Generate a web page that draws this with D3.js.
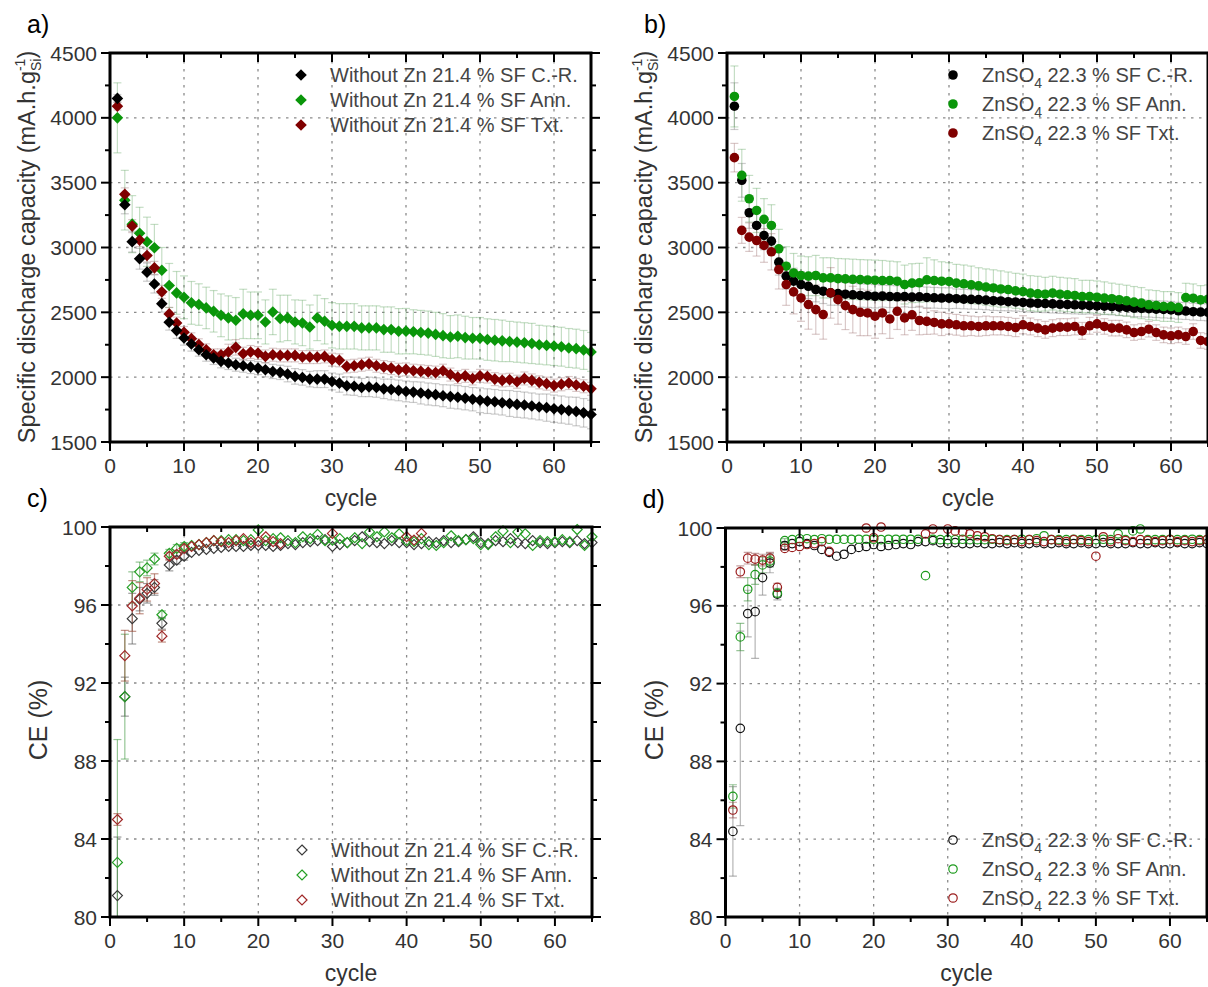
<!DOCTYPE html>
<html>
<head>
<meta charset="utf-8">
<script src="https://cdn.jsdelivr.net/npm/d3@7"></script>
<style>
  body { margin: 0; background: #fff; }
  svg { display: block; font-family: "Liberation Sans", Arial, sans-serif; }
</style>
</head>
<body>
<svg width="1208" height="987"></svg>
<script>
var width = 1208;
var height = 987;

var cycles = d3.range(1, 66);

// a) specific discharge capacity, without Zn (mAh/g Si)
var capNoZnCR = [4150,3330,3045,2913,2810,2719,2567,2423,2359,2302,2256,2212,2173,2148,2122,2109,2096,2088,2078,2070,
  2057,2044,2037,2024,2006,1998,1985,1985,1985,1967,1954,1933,1930,1920,1925,1920,1910,1905,1898,1890,
  1885,1878,1870,1865,1857,1850,1845,1838,1830,1822,1815,1810,1803,1797,1790,1785,1778,1770,1765,1757,
  1750,1742,1735,1725,1712];
var capNoZnAnn = [4000,3365,3180,3110,3044,2998,2825,2707,2650,2616,2573,2560,2534,2508,2477,2457,2439,2488,2477,2477,
  2426,2503,2452,2457,2426,2418,2387,2457,2431,2400,2392,2392,2392,2380,2380,2380,2367,2367,2354,2355,
  2350,2345,2340,2330,2320,2310,2315,2305,2300,2300,2290,2285,2280,2275,2270,2265,2260,2250,2245,2240,
  2235,2225,2220,2210,2195];
var capNoZnTxt = [4090,3410,3165,3057,2938,2843,2658,2488,2418,2346,2297,2251,2212,2173,2173,2194,2230,2181,2194,2186,
  2160,2173,2168,2168,2168,2155,2155,2155,2160,2135,2130,2083,2088,2096,2104,2088,2078,2070,2057,2060,
  2050,2045,2040,2035,2050,2020,2000,2010,1990,2010,2005,1985,1975,1980,1965,1990,1975,1960,1950,1935,
  1945,1955,1940,1930,1910];
var errNoZnCR = [30,70,80,80,70,70,65,60,60,55,55,50,50,50,50,50,50,50,50,50,55,55,55,60,60,60,60,65,65,65,
  70,70,70,70,75,75,75,80,80,80,80,85,85,85,85,90,90,90,90,95,95,95,95,100,100,100,100,100,105,105,105,105,110,110,110];
var errNoZnAnn = [270,230,220,200,190,180,175,170,165,165,165,160,160,160,165,170,175,190,180,180,170,175,180,175,170,
  175,170,175,175,175,175,175,175,170,170,170,175,175,175,175,170,170,170,170,170,165,165,165,160,160,160,160,160,155,155,
  155,155,150,150,150,150,150,150,150,150];
var errNoZnTxt = [30,50,50,50,50,50,50,50,45,45,45,45,45,45,45,60,60,50,50,50,50,50,50,50,50,50,50,50,50,50,
  50,50,50,50,50,50,50,50,50,50,50,50,50,50,50,50,50,50,50,50,50,50,50,50,50,50,50,50,50,50,50,50,50,50,50];

// b) specific discharge capacity, ZnSO4
var capZnCR = [4090,3518,3268,3170,3093,3049,2887,2779,2740,2714,2701,2676,2663,2650,2645,2640,2635,2630,2628,2624,
  2625,2622,2620,2622,2618,2620,2615,2612,2610,2609,2605,2602,2600,2598,2595,2590,2588,2582,2580,2576,
  2572,2570,2568,2565,2562,2560,2558,2555,2552,2550,2548,2545,2540,2538,2532,2530,2528,2525,2522,2519,
  2512,2510,2505,2502,2500];
var capZnAnn = [4165,3557,3376,3286,3217,3170,2990,2856,2804,2784,2779,2784,2766,2766,2760,2758,2755,2752,2750,2748,
  2745,2745,2740,2714,2725,2728,2751,2745,2740,2738,2725,2720,2712,2704,2695,2688,2680,2676,2666,2660,
  2648,2643,2640,2648,2640,2635,2630,2622,2622,2617,2610,2605,2597,2589,2579,2571,2558,2553,2545,2545,
  2537,2614,2609,2596,2601];
var capZnTxt = [3693,3132,3080,3054,3016,2967,2830,2714,2658,2611,2560,2521,2483,2650,2598,2552,2521,2500,2495,2470,
  2495,2449,2508,2457,2481,2437,2430,2422,2411,2411,2404,2396,2396,2391,2396,2396,2396,2391,2383,2404,
  2391,2378,2365,2378,2386,2386,2391,2357,2396,2411,2391,2378,2378,2365,2344,2352,2370,2344,2326,2319,
  2326,2313,2352,2283,2275];
var errZnCR = [180,130,120,110,110,100,100,100,100,100,95,95,95,95,90,90,90,90,90,90,85,85,85,80,80,80,80,80,80,80,
  75,75,75,75,75,75,75,70,70,70,70,70,70,70,70,70,70,70,65,65,65,65,65,65,65,65,65,65,65,65,65,65,65,65,65];
var errZnAnn = [235,200,180,170,160,160,150,150,150,150,150,155,155,155,155,155,155,155,155,155,155,150,150,150,150,
  150,170,160,150,145,145,145,145,140,140,140,140,135,135,135,135,135,130,130,130,130,130,125,125,125,125,120,120,120,120,
  120,115,115,115,115,115,110,110,110,110];
var errZnTxt = [110,100,110,120,130,140,150,160,170,180,190,190,190,195,190,185,180,180,175,170,160,150,140,130,120,
  110,100,90,90,80,80,80,75,75,75,70,70,70,70,70,65,65,65,65,65,65,65,65,65,65,60,60,60,60,60,60,60,60,60,60,
  60,60,60,60,60];

// c) coulombic efficiency, without Zn (%)
var ceNoZnCR = [81.1,91.3,95.3,96.3,96.6,96.9,95.06,98.05,98.3,98.5,98.7,98.8,98.85,98.9,98.95,99.0,99.0,99.0,99.05,99.05,
  99.05,99.0,99.05,99.15,99.1,99.2,99.25,99.3,99.35,99.0,99.1,99.2,99.3,99.5,99.25,99.2,99.15,99.3,99.2,99.2,
  99.1,99.15,99.25,99.2,99.3,99.2,99.25,99.35,99.5,99.2,99.15,99.3,99.25,99.4,99.2,99.15,99.3,99.2,99.15,99.2,
  99.25,99.2,99.3,99.15,99.2];
var ceNoZnAnn = [82.8,91.3,96.9,97.7,97.9,98.36,95.5,98.65,98.9,99.0,99.05,99.1,99.2,99.3,99.3,99.35,99.35,99.3,99.35,99.85,
  99.3,99.4,99.45,99.3,99.2,99.5,99.4,99.62,99.3,99.33,99.4,99.2,99.45,99.15,99.75,99.5,99.75,99.45,99.65,99.3,
  99.25,99.4,99.1,99.05,99.2,99.55,99.3,99.35,99.4,99.1,99.1,99.5,99.8,99.2,99.75,99.65,99.05,99.3,99.25,99.25,
  99.35,99.25,99.87,99.05,99.5];
var ceNoZnTxt = [85.0,93.4,95.95,96.35,96.8,97.1,94.4,98.5,98.6,98.9,99.0,99.1,99.2,99.3,99.25,99.2,99.3,99.4,99.2,99.25,
  99.5,99.25,99.15,null,null,null,null,null,null,99.67,null,null,null,null,null,null,null,null,null,99.5,
  99.33,99.67];
var errCeNoZnCR = [3.0,1.0,1.3,0.6,0.5,0.4,0.3,0.3,0.2,0.2];
var errCeNoZnAnn = [6.3,3.2,0.8,0.5,0.4,0.3,0.2,0.2,0.2,0.2];
var errCeNoZnTxt = [0.3,1.3,1.3,0.8,0.6,0.5,0.3,0.2,0.2,0.2];

// d) coulombic efficiency, ZnSO4 (%)
var ceZnCR = [84.4,89.7,95.6,95.7,97.45,98.2,96.6,99.1,99.2,99.3,99.2,99.1,98.9,98.75,98.55,98.65,98.9,99.0,99.05,99.15,
  99.05,99.1,99.15,99.2,99.15,99.3,99.3,99.35,99.25,99.2,99.25,99.2,99.2,99.25,99.2,99.2,99.25,99.2,99.25,99.2,
  99.2,99.25,99.2,99.2,99.25,99.2,99.2,99.25,99.2,99.2,99.25,99.2,99.2,99.2,99.25,99.2,99.2,99.25,99.2,99.2,
  99.25,99.2,99.2,99.25,99.2];
var ceZnAnn = [86.2,94.4,96.85,97.6,98.1,98.3,96.65,99.35,99.4,99.45,99.45,99.4,99.45,99.42,99.42,99.42,99.42,99.42,99.42,99.42,
  99.4,99.42,99.42,99.42,99.42,99.42,97.55,99.42,99.4,99.4,99.4,99.42,99.4,99.4,99.4,99.42,99.4,99.4,99.4,99.42,
  99.4,99.45,99.6,99.4,99.4,99.4,99.42,99.4,99.4,99.4,99.42,99.4,99.7,99.4,99.85,99.95,99.4,99.4,99.4,99.42,
  99.4,99.4,99.42,99.4,99.4];
var ceZnTxt = [85.5,97.75,98.45,98.4,98.35,98.45,96.95,98.95,99.0,99.05,99.15,99.2,99.3,98.8,null,null,null,null,100.0,99.5,
  100.05,null,null,null,null,null,99.7,99.95,null,99.95,99.85,99.8,99.7,99.6,99.55,99.45,99.4,99.35,99.4,99.3,
  99.4,99.35,99.3,99.4,99.35,99.3,99.4,99.35,99.3,98.55,99.55,99.3,99.45,99.35,99.3,99.4,99.35,99.3,99.35,99.4,
  99.3,99.35,99.3,99.35,99.4];
var errCeZnCR = [2.3,5.0,1.2,2.4,0.9,0.5,0.3,0.2];
var errCeZnAnn = [0.6,0.7,0.6,0.5,0.4,0.3,0.2,0.1];
var errCeZnTxt = [0.4,0.3,0.3,0.3,0.3,0.3,0.2,0.1];

var legendNoZn = ['Without Zn 21.4 % SF C.-R.', 'Without Zn 21.4 % SF Ann.', 'Without Zn 21.4 % SF Txt.'];
var legendZn = [' 22.3 % SF C.-R.', ' 22.3 % SF Ann.', ' 22.3 % SF Txt.'];

var capTicks = [1500, 2000, 2500, 3000, 3500, 4000, 4500];
var ceTicks = [80, 84, 88, 92, 96, 100];
var cycleTicks = [0, 10, 20, 30, 40, 50, 60];

var svg = d3.select('svg');

function diamond(r) {
  return 'M0,' + (-r) + 'L' + r + ',0L0,' + r + 'L' + (-r) + ',0Z';
}

var panels = [
  {id: 'a', label: 'a)', left: 110, right: 591, top: 53, bottom: 442, yDomain: [1500, 4500], yTicks: capTicks, yMinor: 250,
   kind: 'cap', shape: 'diamond', filled: true, legendX: 301, legendY: [75, 100, 125], legendZn: false,
   series: [
     {v: capNoZnAnn, e: errNoZnAnn, c: '#0a960a', ec: 'rgba(90,160,90,0.35)', leg: 1},
     {v: capNoZnTxt, e: errNoZnTxt, c: '#800000', ec: 'rgba(150,100,100,0.35)', leg: 2},
     {v: capNoZnCR, e: errNoZnCR, c: '#000000', ec: 'rgba(110,110,110,0.35)', leg: 0}
   ]},
  {id: 'b', label: 'b)', left: 727, right: 1208, top: 53, bottom: 442, yDomain: [1500, 4500], yTicks: capTicks, yMinor: 250,
   kind: 'cap', shape: 'circle', filled: true, legendX: 953, legendY: [75, 104, 133], legendZn: true,
   series: [
     {v: capZnCR, e: errZnCR, c: '#000000', ec: 'rgba(110,110,110,0.35)', leg: 0},
     {v: capZnAnn, e: errZnAnn, c: '#0a960a', ec: 'rgba(90,160,90,0.35)', leg: 1},
     {v: capZnTxt, e: errZnTxt, c: '#800000', ec: 'rgba(150,100,100,0.35)', leg: 2}
   ]},
  {id: 'c', label: 'c)', left: 110, right: 592, top: 527, bottom: 917, yDomain: [80, 100], yTicks: ceTicks, yMinor: 2,
   kind: 'ce', shape: 'diamond', filled: false, legendX: 302, legendY: [850, 875, 900], legendZn: false,
   series: [
     {v: ceNoZnCR, e: errCeNoZnCR, c: '#3a3a3a', ec: 'rgba(90,90,90,0.6)', leg: 0},
     {v: ceNoZnAnn, e: errCeNoZnAnn, c: '#25a025', ec: 'rgba(60,150,60,0.55)', leg: 1},
     {v: ceNoZnTxt, e: errCeNoZnTxt, c: '#a02828', ec: 'rgba(150,70,50,0.6)', leg: 2}
   ]},
  {id: 'd', label: 'd)', left: 725.5, right: 1207, top: 528, bottom: 917, yDomain: [80, 100], yTicks: ceTicks, yMinor: 2,
   kind: 'ce', shape: 'circle', filled: false, legendX: 953, legendY: [840, 869, 898], legendZn: true,
   series: [
     {v: ceZnCR, e: errCeZnCR, c: '#111111', ec: 'rgba(120,120,120,0.55)', leg: 0},
     {v: ceZnAnn, e: errCeZnAnn, c: '#1c9a1c', ec: 'rgba(70,150,70,0.55)', leg: 1},
     {v: ceZnTxt, e: errCeZnTxt, c: '#9b1c1c', ec: 'rgba(150,80,80,0.55)', leg: 2}
   ]}
];

panels.forEach(function(p) {
  var x = d3.scaleLinear().domain([0, 65]).range([p.left, p.right]);
  var y = d3.scaleLinear().domain(p.yDomain).range([p.bottom, p.top]);
  var g = svg.append('g');

  svg.append('clipPath').attr('id', 'clip-' + p.id)
    .append('rect').attr('x', p.left).attr('y', p.top)
    .attr('width', p.right - p.left).attr('height', p.bottom - p.top);

  // dashed grid -------------------------------------------------------------
  var grid = g.append('g').attr('stroke', '#8a8a8a').attr('stroke-width', 1.3).attr('stroke-dasharray', '2.5,5.5');
  grid.selectAll('.gx').data(cycleTicks.slice(1)).enter().append('line')
    .attr('x1', d => x(d)).attr('x2', d => x(d)).attr('y1', p.top).attr('y2', p.bottom);
  grid.selectAll('.gy').data(p.yTicks.slice(1, -1)).enter().append('line')
    .attr('x1', p.left).attr('x2', p.right).attr('y1', d => y(d)).attr('y2', d => y(d));

  // error bars --------------------------------------------------------------
  var eg = g.append('g').attr('clip-path', 'url(#clip-' + p.id + ')');
  p.series.forEach(function(s) {
    var pts = cycles.map((c, i) => ({c: c, v: s.v[i], e: s.e[i]}))
      .filter(d => d.v != null && d.e != null && d.e > 0);
    var bars = eg.append('g').attr('stroke', s.ec).attr('stroke-width', 1.2);
    bars.selectAll('.v').data(pts).enter().append('line')
      .attr('x1', d => x(d.c)).attr('x2', d => x(d.c))
      .attr('y1', d => y(d.v - d.e)).attr('y2', d => y(d.v + d.e));
    bars.selectAll('.t').data(pts).enter().append('line')
      .attr('x1', d => x(d.c) - 4).attr('x2', d => x(d.c) + 4)
      .attr('y1', d => y(d.v + d.e)).attr('y2', d => y(d.v + d.e));
    bars.selectAll('.b').data(pts).enter().append('line')
      .attr('x1', d => x(d.c) - 4).attr('x2', d => x(d.c) + 4)
      .attr('y1', d => y(d.v - d.e)).attr('y2', d => y(d.v - d.e));
  });

  // markers -----------------------------------------------------------------
  var mg = g.append('g');
  p.series.forEach(function(s) {
    var pts = cycles.map((c, i) => ({c: c, v: s.v[i]})).filter(d => d.v != null);
    var sel = mg.append('g').selectAll('path').data(pts).enter();
    drawMarker(sel.append('path'), p, s.c)
      .attr('transform', d => 'translate(' + x(d.c) + ',' + y(d.v) + ')');
  });

  // axes --------------------------------------------------------------------
  var minorX = d3.range(5, 66, 10);
  var minorY = d3.range(p.yDomain[0], p.yDomain[1] + 0.001, p.yMinor).filter(v => p.yTicks.indexOf(v) < 0);

  var ax = g.append('g').attr('stroke', '#000').attr('stroke-width', 2);
  // bottom (outward) and top (inward)
  [[p.bottom, 1], [p.top, 1]].forEach(function(t) {
    ax.selectAll(null).data(cycleTicks).enter().append('line')
      .attr('x1', d => x(d)).attr('x2', d => x(d)).attr('y1', t[0]).attr('y2', t[0] + 9 * t[1]);
    ax.selectAll(null).data(minorX).enter().append('line')
      .attr('x1', d => x(d)).attr('x2', d => x(d)).attr('y1', t[0]).attr('y2', t[0] + 5 * t[1]);
  });
  // left and right (outward)
  [[p.left, -1], [p.right, 1]].forEach(function(t) {
    ax.selectAll(null).data(p.yTicks).enter().append('line')
      .attr('y1', d => y(d)).attr('y2', d => y(d)).attr('x1', t[0]).attr('x2', t[0] + 9 * t[1]);
    ax.selectAll(null).data(minorY).enter().append('line')
      .attr('y1', d => y(d)).attr('y2', d => y(d)).attr('x1', t[0]).attr('x2', t[0] + 5 * t[1]);
  });

  g.append('rect').attr('x', p.left).attr('y', p.top)
    .attr('width', p.right - p.left).attr('height', p.bottom - p.top)
    .attr('fill', 'none').attr('stroke', '#000').attr('stroke-width', 3);

  // tick labels
  g.append('g').selectAll('text').data(cycleTicks).enter().append('text')
    .attr('x', d => x(d)).attr('y', p.bottom + 31)
    .attr('text-anchor', 'middle').attr('font-size', 21).attr('fill', '#333')
    .text(d => d);
  g.append('g').selectAll('text').data(p.yTicks).enter().append('text')
    .attr('x', p.left - 13).attr('y', d => y(d) + 7.5)
    .attr('text-anchor', 'end').attr('font-size', 21).attr('fill', '#333')
    .text(d => d);

  // axis titles
  g.append('text').attr('x', (p.left + 351 - 110)).attr('y', p.bottom + 64)
    .attr('text-anchor', 'middle').attr('font-size', 23).attr('fill', '#333')
    .text('cycle');

  if (p.kind === 'cap') {
    var yt = g.append('text')
      .attr('transform', 'translate(' + (p.left - 75) + ',247) rotate(-90)')
      .attr('text-anchor', 'middle').attr('font-size', 23.5).attr('fill', '#333');
    yt.append('tspan').text('Specific discharge capacity (mA.h.g');
    yt.append('tspan').attr('font-size', 14).attr('dy', -10).text('-1');
    yt.append('tspan').attr('font-size', 14).attr('dx', -12.4).attr('dy', 16).text('Si');
    yt.append('tspan').attr('dy', -6).text(')');
  } else {
    g.append('text')
      .attr('transform', 'translate(' + (p.left - 63) + ',720) rotate(-90)')
      .attr('text-anchor', 'middle').attr('font-size', 25).attr('fill', '#333')
      .text('CE (%)');
  }

  // panel label
  g.append('text').attr('x', p.left - 83).attr('y', p.top - 20)
    .attr('font-size', 25).attr('fill', '#000').text(p.label);

  // legend ------------------------------------------------------------------
  var leg = g.append('g');
  p.series.slice().sort((a, b) => a.leg - b.leg).forEach(function(s, i) {
    var ly = p.legendY[i];
    drawMarker(leg.append('path'), p, s.c)
      .attr('transform', 'translate(' + p.legendX + ',' + ly + ')');
    var t = leg.append('text').attr('x', p.legendX + 29).attr('y', ly + 7)
      .attr('font-size', 20).attr('fill', '#444');
    if (p.legendZn) {
      t.append('tspan').text('ZnSO');
      t.append('tspan').attr('font-size', 14).attr('dy', 6).text('4');
      t.append('tspan').attr('dy', -6).text(legendZn[i]);
    } else {
      t.text(legendNoZn[i]);
    }
  });
});

function drawMarker(sel, p, color) {
  var isCap = p.kind === 'cap';
  if (p.shape === 'diamond') {
    sel.attr('d', diamond(isCap ? 5.8 : 5));
  } else {
    sel.attr('d', d3.symbol().type(d3.symbolCircle).size(isCap ? 72 : 56)());
  }
  if (p.filled) {
    sel.attr('fill', color).attr('stroke', 'none');
  } else {
    sel.attr('fill', 'none').attr('stroke', color).attr('stroke-width', 1.2);
  }
  return sel;
}
</script>
</body>
</html>
